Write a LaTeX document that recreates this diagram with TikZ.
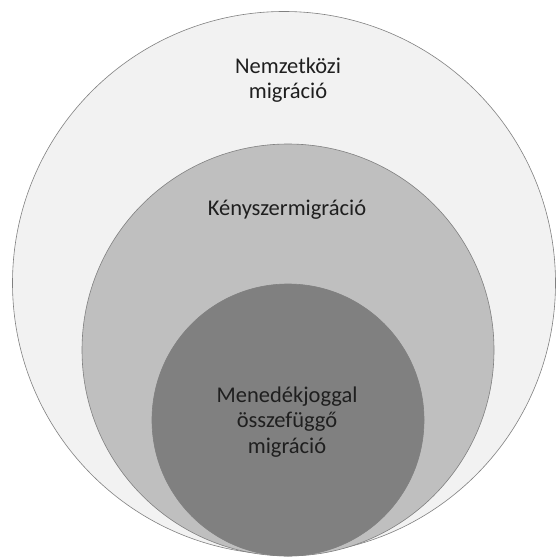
\documentclass[tikz,border=0pt]{standalone}
\usepackage{fontspec}
\setmainfont{Carlito}
\begin{document}
\begin{tikzpicture}[x=1pt,y=-1pt,
  ring/.style={circle, draw=black!50, line width=0.6pt, inner sep=0pt},
  lbl/.style={align=center, text=black!88, font=\fontsize{22.5}{25.5}\selectfont}]
\useasboundingbox[fill=white] (0,0) rectangle (555,559);
\node[ring, fill=black!5, minimum size=543pt] (outer) at (284,283) {};
\node[ring, fill=black!25, minimum size=412pt] (middle) at (288,350) {};
\node[ring, fill=black!50, minimum size=272pt] (inner) at (288,420) {};
\node[lbl] (t1) at (288,80) {Nemzetközi\\migráció};
\node[lbl] (t2) at (287,210) {Kényszermigráció};
\node[lbl] (t3) at (287,422) {Menedékjoggal\\összefüggő\\migráció};
\end{tikzpicture}
\end{document}
